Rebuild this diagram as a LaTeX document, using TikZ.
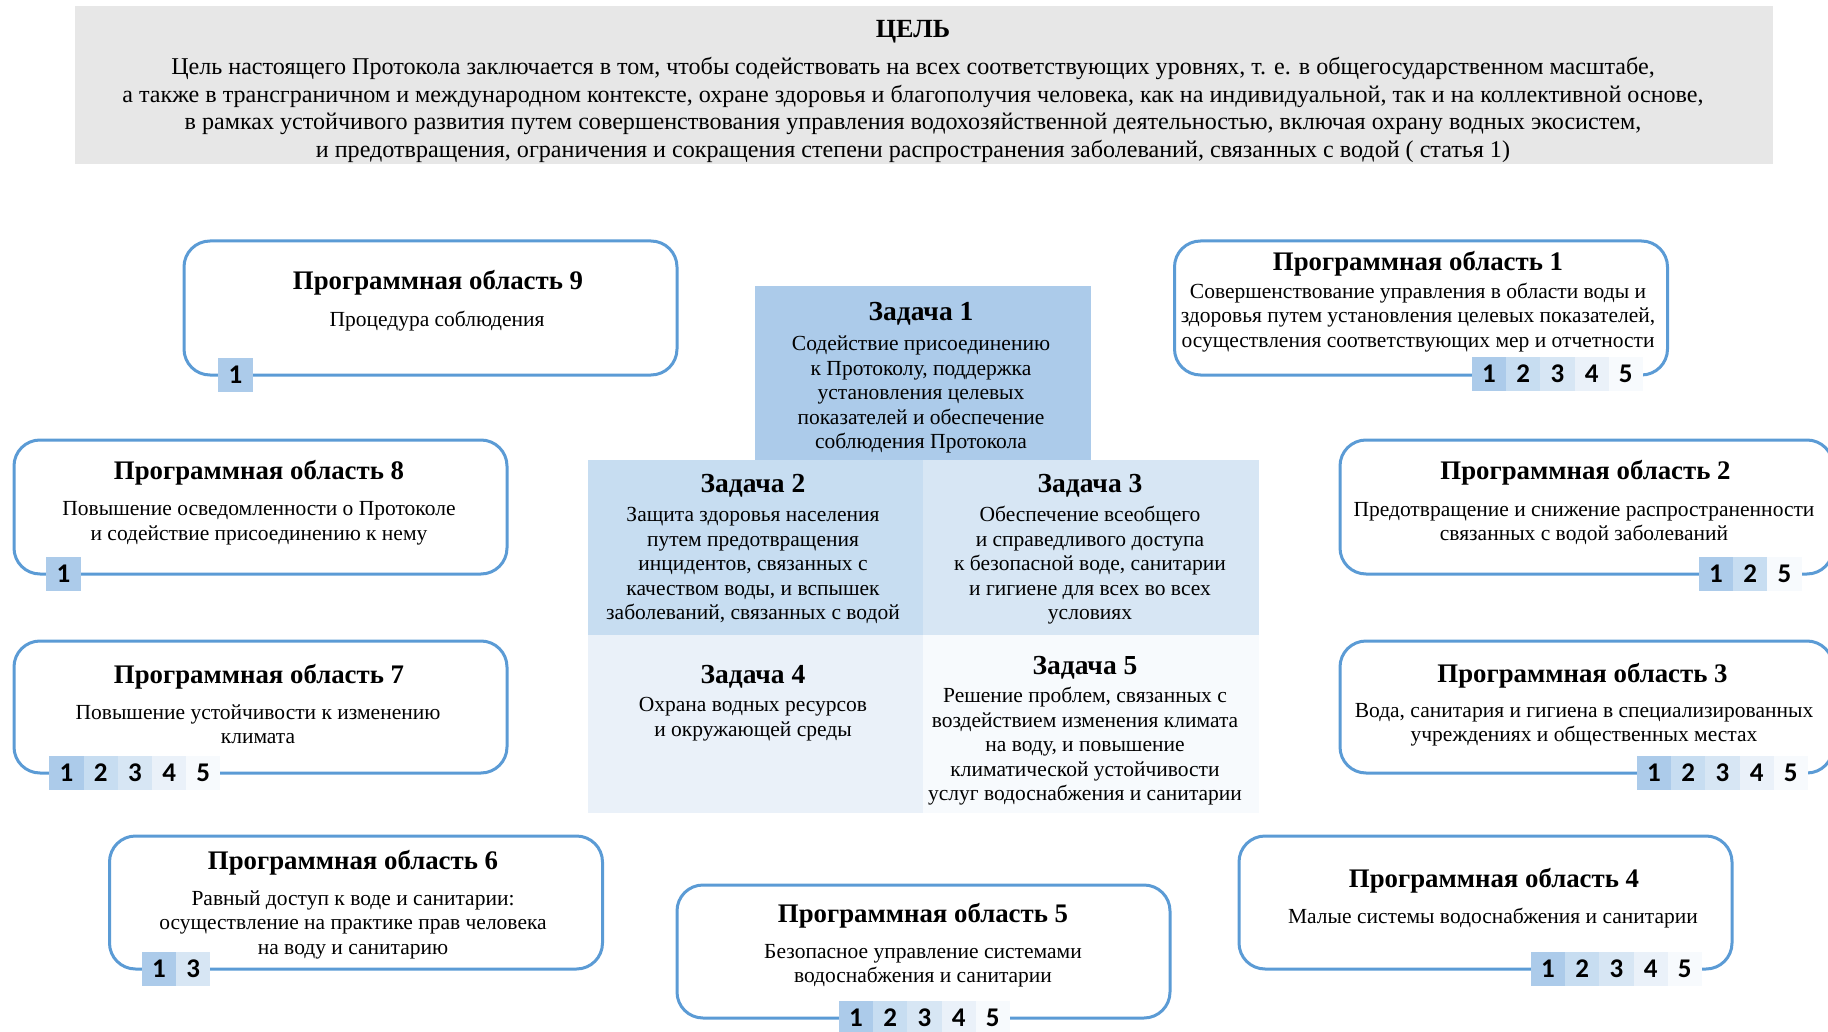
\documentclass[tikz,border=0pt]{standalone}
\usepackage{fontspec}
\setmainfont{Liberation Serif}
\newfontfamily\digitfont{Carlito}
\definecolor{areablue}{RGB}{91,155,213}
\definecolor{goalgray}{RGB}{231,231,231}
\definecolor{tone1}{RGB}{172,203,234}
\definecolor{tone2}{RGB}{199,221,241}
\definecolor{tone3}{RGB}{215,230,244}
\definecolor{tone4}{RGB}{234,241,249}
\definecolor{tone5}{RGB}{247,250,253}
\begin{document}
\begin{tikzpicture}[x=1pt, y=-1pt,
  goalbox/.style={fill=goalgray, minimum width=1698pt, minimum height=158pt, inner sep=0pt},
  areabox/.style={draw=areablue, line width=3pt, rounded corners=26pt, fill=white,
    minimum width=493pt, minimum height=134pt, inner sep=0pt},
  taskcell/.style={minimum width=335.6pt, inner sep=0pt},
  heading/.style={font=\bfseries\fontsize{26.8}{30}\selectfont, inner sep=0pt},
  taskhead/.style={font=\bfseries\fontsize{27.5}{30}\selectfont, inner sep=0pt},
  bodytext/.style={font=\fontsize{21.5}{24.5}\selectfont, align=center, inner sep=0pt},
  goaltext/.style={font=\fontsize{24.1}{27.7}\selectfont, align=center, inner sep=0pt},
  badge/.style={minimum width=34.2pt, minimum height=34pt, inner sep=0pt,
    font=\digitfont\bfseries\fontsize{27}{27}\selectfont}]
\useasboundingbox (0,0) rectangle (1828,1032);
\clip (0,0) rectangle (1828,1032);

% goal
\node[goalbox] (goal) at (924,85) {};
\node[heading, font=\bfseries\fontsize{26.2}{30}\selectfont] (goal-title) at (913,32) {ЦЕЛЬ};
\node[goaltext] (goal-text) at (913,110) {Цель настоящего Протокола заключается в том, чтобы содействовать на всех соответствующих уровнях, т. е. в общегосударственном масштабе,\\
а также в трансграничном и международном контексте, охране здоровья и благополучия человека, как на индивидуальной, так и на коллективной основе,\\
в рамках устойчивого развития путем совершенствования управления водохозяйственной деятельностью, включая охрану водных экосистем,\\
и предотвращения, ограничения и сокращения степени распространения заболеваний, связанных с водой ( статья 1)};

% tasks
\node[taskcell, fill=tone1, minimum height=174pt] (task1) at (923,373) {};
\node[taskhead] (task1-title) at (921,313.5) {Задача 1};
\node[bodytext] (task1-text) at (921,394.5) {Содействие присоединению\\к Протоколу, поддержка\\установления целевых\\показателей и обеспечение\\соблюдения Протокола};

\node[taskcell, fill=tone2, minimum height=175pt] (task2) at (755.5,547.5) {};
\node[taskhead] (task2-title) at (753,485.5) {Задача 2};
\node[bodytext] (task2-text) at (753,565.5) {Защита здоровья населения\\путем предотвращения\\инцидентов, связанных с\\качеством воды, и вспышек\\заболеваний, связанных с водой};

\node[taskcell, fill=tone3, minimum height=175pt] (task3) at (1091,547.5) {};
\node[taskhead] (task3-title) at (1090,485.5) {Задача 3};
\node[bodytext] (task3-text) at (1090,565.5) {Обеспечение всеобщего\\и справедливого доступа\\к безопасной воде, санитарии\\и гигиене для всех во всех\\условиях};

\node[taskcell, fill=tone4, minimum height=178pt] (task4) at (755.5,724) {};
\node[taskhead] (task4-title) at (753,676.5) {Задача 4};
\node[bodytext] (task4-text) at (753,719) {Охрана водных ресурсов\\и окружающей среды};

\node[taskcell, fill=tone5, minimum height=178pt] (task5) at (1091,724) {};
\node[taskhead] (task5-title) at (1085,667.5) {Задача 5};
\node[bodytext] (task5-text) at (1085,746.5) {Решение проблем, связанных с\\воздействием изменения климата\\на воду, и повышение\\климатической устойчивости\\услуг водоснабжения и санитарии};

% programme area 9
\node[areabox] (pa9) at (430.5,308) {};
\node[heading] (pa9-title) at (438,282.5) {Программная область 9};
\node[bodytext] (pa9-text) at (437,321) {Процедура соблюдения};
\node[badge, fill=tone1] (pa9-1) at (235.5,375) {1};

% programme area 1
\node[areabox] (pa1) at (1421,308) {};
\node[heading] (pa1-title) at (1418,264) {Программная область 1};
\node[bodytext] (pa1-text) at (1418,317.5) {Совершенствование управления в области воды и\\здоровья путем установления целевых показателей,\\осуществления соответствующих мер и отчетности};
\foreach \n [count=\i from 0] in {1,2,3,4,5}
  \node[badge, fill=tone\n] (pa1-\n) at (1489+34.2*\i,374) {\n};

% programme area 8
\node[areabox] (pa8) at (260.5,507) {};
\node[heading] (pa8-title) at (259,472.5) {Программная область 8};
\node[bodytext] (pa8-text) at (259,523.5) {Повышение осведомленности о Протоколе\\и содействие присоединению к нему};
\node[badge, fill=tone1] (pa8-1) at (63.5,574) {1};

% programme area 2
\node[areabox] (pa2) at (1586.5,507) {};
\node[heading] (pa2-title) at (1585.5,472.5) {Программная область 2};
\node[bodytext] (pa2-text) at (1584,523.5) {Предотвращение и снижение распространенности\\связанных с водой заболеваний};
\foreach \n [count=\i from 0] in {1,2,5}
  \node[badge, fill=tone\n] (pa2-\n) at (1716+34.2*\i,574) {\n};

% programme area 7
\node[areabox, minimum height=132pt] (pa7) at (260.5,707) {};
\node[heading] (pa7-title) at (259,676.5) {Программная область 7};
\node[bodytext] (pa7-text) at (258,724) {Повышение устойчивости к изменению\\климата};
\foreach \n [count=\i from 0] in {1,2,3,4,5}
  \node[badge, fill=tone\n] (pa7-\n) at (66.5+34.2*\i,773) {\n};

% programme area 3
\node[areabox, minimum height=132pt] (pa3) at (1586.5,707) {};
\node[heading] (pa3-title) at (1582.5,675.5) {Программная область 3};
\node[bodytext] (pa3-text) at (1584,725) {Вода, санитария и гигиена в специализированных\\учреждениях и общественных местах};
\foreach \n [count=\i from 0] in {1,2,3,4,5}
  \node[badge, fill=tone\n] (pa3-\n) at (1654+34.2*\i,773) {\n};

% programme area 6
\node[areabox, minimum height=133pt] (pa6) at (356,902.5) {};
\node[heading] (pa6-title) at (353,862.5) {Программная область 6};
\node[bodytext] (pa6-text) at (353,924.5) {Равный доступ к воде и санитарии:\\осуществление на практике прав человека\\на воду и санитарию};
\foreach \n [count=\i from 0] in {1,3}
  \node[badge, fill=tone\n] (pa6-\n) at (159+34.2*\i,969) {\n};

% programme area 5
\node[areabox, minimum height=133pt] (pa5) at (923.5,951.5) {};
\node[heading] (pa5-title) at (923,915.5) {Программная область 5};
\node[bodytext] (pa5-text) at (923,965.5) {Безопасное управление системами\\водоснабжения и санитарии};
\foreach \n [count=\i from 0] in {1,2,3,4,5}
  \node[badge, fill=tone\n] (pa5-\n) at (856+34.2*\i,1018) {\n};

% programme area 4
\node[areabox, minimum height=133pt] (pa4) at (1485.5,902.5) {};
\node[heading] (pa4-title) at (1494,880.5) {Программная область 4};
\node[bodytext] (pa4-text) at (1493,918.5) {Малые системы водоснабжения и санитарии};
\foreach \n [count=\i from 0] in {1,2,3,4,5}
  \node[badge, fill=tone\n] (pa4-\n) at (1548+34.2*\i,969) {\n};
\end{tikzpicture}
\end{document}
